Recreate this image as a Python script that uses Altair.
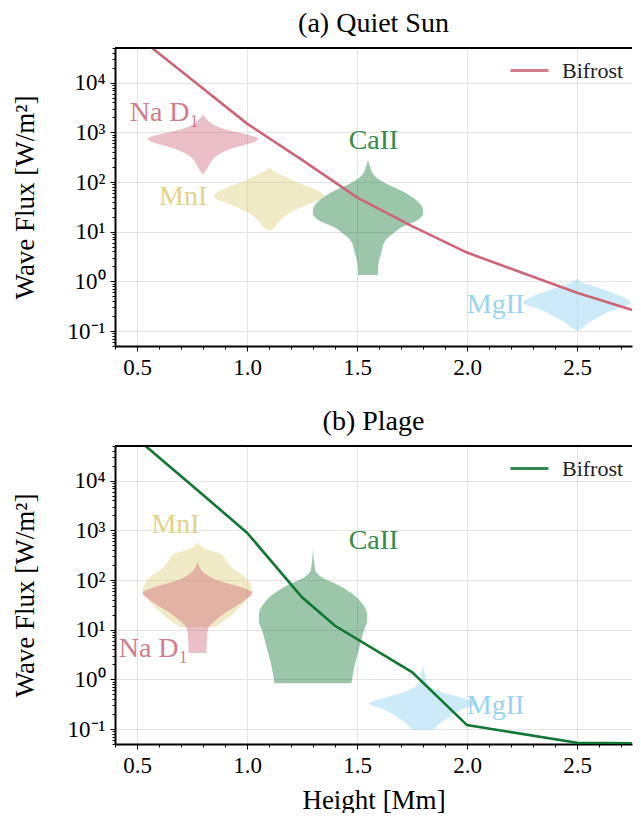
import altair as alt
import pandas as pd

# ---------------- data ----------------
# Bifrost mean wave flux (W/m^2) vs height (Mm)
QS_BIF_H = [0.5, 0.75, 1.0, 1.25, 1.5, 1.75, 2.0, 2.5, 3.0]
QS_BIF_F = [87000, 11500, 1500, 280, 49, 13, 3.8, 0.59, 0.12]
PL_BIF_H = [0.5, 0.75, 1.0, 1.25, 1.4, 1.75, 2.0, 2.5, 3.0]
PL_BIF_F = [70000, 8000, 900, 45, 12, 1.4, 0.12, 0.053, 0.05]

# violin outlines: log10(flux) levels and half widths (Mm)
QS_NAD1_X = 0.80
QS_NAD1_LOGF = [3.36, 3.25, 3.15, 3.05, 2.98, 2.92, 2.87, 2.82, 2.76, 2.70, 2.62, 2.52, 2.40, 2.28, 2.15]
QS_NAD1_W = [0.0, 0.02, 0.05, 0.11, 0.18, 0.23, 0.25, 0.24, 0.20, 0.15, 0.10, 0.06, 0.035, 0.02, 0.0]

QS_MNI_X = 1.10
QS_MNI_LOGF = [2.29, 2.22, 2.15, 2.07, 1.99, 1.87, 1.78, 1.73, 1.66, 1.59, 1.46, 1.32, 1.18, 1.08, 1.02]
QS_MNI_W = [0.0, 0.02, 0.05, 0.09, 0.13, 0.20, 0.24, 0.25, 0.24, 0.20, 0.13, 0.075, 0.04, 0.025, 0.0]

QS_CAII_X = 1.55
QS_CAII_LOGF = [2.45, 2.30, 2.15, 2.05, 1.95, 1.83, 1.70, 1.57, 1.45, 1.36, 1.22, 1.08, 0.95, 0.88, 0.75, 0.62, 0.45, 0.30, 0.13]
QS_CAII_W = [0.0, 0.01, 0.025, 0.05, 0.09, 0.15, 0.20, 0.235, 0.25, 0.25, 0.22, 0.15, 0.11, 0.09, 0.07, 0.063, 0.052, 0.046, 0.045]

QS_MGII_X = 2.50
QS_MGII_LOGF = [0.05, -0.05, -0.12, -0.20, -0.30, -0.38, -0.43, -0.48, -0.55, -0.62, -0.69, -0.76, -0.83, -0.92, -1.0]
QS_MGII_W = [0.0, 0.04, 0.09, 0.14, 0.20, 0.235, 0.245, 0.23, 0.18, 0.14, 0.11, 0.08, 0.055, 0.03, 0.0]

PL_MNI_X = 0.775
PL_MNI_LOGF = [2.79, 2.69, 2.59, 2.53, 2.42, 2.24, 2.08, 1.92, 1.78, 1.64, 1.44, 1.24, 1.05]
PL_MNI_W = [0.0, 0.012, 0.06, 0.105, 0.127, 0.16, 0.21, 0.24, 0.25, 0.23, 0.19, 0.14, 0.08]

PL_NAD1_X = 0.775
PL_NAD1_LOGF = [2.38, 2.24, 2.12, 1.98, 1.88, 1.82, 1.74, 1.58, 1.38, 1.18, 1.04, 0.92, 0.53]
PL_NAD1_W = [0.0, 0.012, 0.037, 0.10, 0.18, 0.22, 0.25, 0.21, 0.14, 0.08, 0.05, 0.045, 0.04]

PL_CAII_X = 1.30
PL_CAII_LOGF = [2.63, 2.40, 2.18, 2.04, 1.92, 1.72, 1.52, 1.31, 1.18, 0.97, 0.63, 0.30, -0.08]
PL_CAII_W = [0.0, 0.004, 0.012, 0.045, 0.105, 0.18, 0.225, 0.246, 0.246, 0.23, 0.21, 0.19, 0.175]

PL_MGII_X = 1.80
PL_MGII_LOGF = [0.30, 0.10, -0.10, -0.24, -0.38, -0.49, -0.60, -0.75, -0.89, -1.01]
PL_MGII_W = [0.0, 0.008, 0.022, 0.075, 0.18, 0.245, 0.18, 0.12, 0.075, 0.05]

# line labels
LABEL_TEXT = ["Na D\u2081", "MnI", "CaII", "MgII"]
QS_LABEL_X = [0.625, 0.71, 1.575, 2.13]
QS_LABEL_F = [2400, 51, 680, 0.33]
PL_LABEL_X = [0.575, 0.675, 1.575, 2.13]
PL_LABEL_F = [4.1, 1290, 620, 0.29]

# axis ticks
X_TICKS = [0.4, 0.5, 0.6, 0.7, 0.8, 0.9, 1.0, 1.1, 1.2, 1.3, 1.4, 1.5, 1.6, 1.7, 1.8, 1.9,
           2.0, 2.1, 2.2, 2.3, 2.4, 2.5, 2.6, 2.7]
Y_TICKS = [0.05, 0.06, 0.07, 0.08, 0.09, 0.1, 0.2, 0.3, 0.4, 0.5, 0.6, 0.7, 0.8, 0.9,
           1, 2, 3, 4, 5, 6, 7, 8, 9, 10, 20, 30, 40, 50, 60, 70, 80, 90,
           100, 200, 300, 400, 500, 600, 700, 800, 900, 1000, 2000, 3000, 4000, 5000,
           6000, 7000, 8000, 9000, 10000, 20000, 30000, 40000, 50000]

ROSE, SAND, GREEN, CYAN = "#CC6677", "#DDCC77", "#117733", "#88CCEE"
LABEL_COLORS = [ROSE, SAND, GREEN, CYAN]

FONT = "Liberation Serif"
W, H = 517, 298
XDOM = [0.4, 2.75]
YDOM = [0.05, 50000]

x_major = "abs(datum.value*2 - round(datum.value*2)) < 0.001"
y_L = "(log(datum.value)/LN10)"
y_major = f"abs({y_L} - round({y_L})) < 0.001"
y_label = (f"{y_major} ? ('10' + (round({y_L}) == -1 ? '\u207b\u00b9' : round({y_L}) == 0 ? '\u2070' : "
           f"round({y_L}) == 1 ? '\u00b9' : round({y_L}) == 2 ? '\u00b2' : round({y_L}) == 3 ? '\u00b3' : '\u2074')) : ''")


def xaxis(show_title):
    return alt.Axis(
        values=X_TICKS,
        labelExpr=f"{x_major} ? format(datum.value, '.1f') : ''",
        tickSize={"condition": {"test": x_major, "value": 5}, "value": 3},
        gridOpacity={"condition": {"test": x_major, "value": 1}, "value": 0},
        labelFlush=False,
        labelOverlap=False,
        title="Height [Mm]" if show_title else "",
    )


yaxis = alt.Axis(
    values=Y_TICKS,
    labelExpr=y_label,
    tickSize={"condition": {"test": y_major, "value": 5}, "value": 3},
    gridOpacity={"condition": {"test": y_major, "value": 1}, "value": 0},
    title="Wave Flux [W/m\u00b2]",
    labelFlush=False,
)

XSC = alt.Scale(domain=XDOM, nice=False, zero=False)
YSC = alt.Scale(type="log", domain=YDOM, nice=False)


def violin_layer(center, logf, widths, color, xax):
    df = pd.DataFrame({
        "flux": [10 ** v for v in logf],
        "lo": [center - w for w in widths],
        "hi": [center + w for w in widths],
    })
    return alt.Chart(df).mark_area(orient="horizontal", color=color, opacity=0.42,
                                   interpolate="monotone").encode(
        y=alt.Y("flux:Q", scale=YSC, axis=yaxis),
        x=alt.X("lo:Q", scale=XSC, axis=xax),
        x2="hi:Q",
    )


def panel(title, bif_h, bif_f, line_color, violins, lab_x, lab_f, show_xtitle):
    xax = xaxis(show_xtitle)
    layers = [violin_layer(c, lf, w, col, xax) for c, lf, w, col in violins]
    line_df = pd.DataFrame({"h": bif_h, "flux": bif_f, "series": ["Bifrost"] * len(bif_h)})
    line = alt.Chart(line_df).mark_line(clip=True, strokeWidth=2.6).encode(
        x=alt.X("h:Q", scale=XSC, axis=xax),
        y=alt.Y("flux:Q", scale=YSC, axis=yaxis),
        color=alt.Color("series:N", scale=alt.Scale(domain=["Bifrost"], range=[line_color]),
                        legend=alt.Legend(title=None, orient="none", legendX=394, legendY=2,
                                          symbolType="stroke", symbolSize=1444,
                                          symbolStrokeWidth=3, labelFontSize=22, labelFont=FONT,
                                          labelColor="#222222", labelOffset=12, padding=0)),
    )
    lab_df = pd.DataFrame({"x": lab_x, "flux": lab_f, "text": LABEL_TEXT, "c": LABEL_COLORS})
    labels = alt.Chart(lab_df).mark_text(font=FONT, fontSize=28, opacity=0.85).encode(
        x=alt.X("x:Q", scale=XSC, axis=xax),
        y=alt.Y("flux:Q", scale=YSC, axis=yaxis),
        text="text:N",
        color=alt.Color("c:N", scale=None),
    )
    topline = alt.Chart(line_df).mark_rule(color="black", strokeWidth=2).encode(
        x=alt.value(0), x2=alt.value(W), y=alt.value(0)
    )
    return alt.layer(*layers, line, labels, topline).properties(
        width=W, height=H,
        title=alt.TitleParams(title, font=FONT, fontSize=28, fontWeight="normal", color="black", offset=9),
    )


top = panel("(a) Quiet Sun", QS_BIF_H, QS_BIF_F, ROSE,
            [(QS_NAD1_X, QS_NAD1_LOGF, QS_NAD1_W, ROSE),
             (QS_MNI_X, QS_MNI_LOGF, QS_MNI_W, SAND),
             (QS_CAII_X, QS_CAII_LOGF, QS_CAII_W, GREEN),
             (QS_MGII_X, QS_MGII_LOGF, QS_MGII_W, CYAN)],
            QS_LABEL_X, QS_LABEL_F, False)

bottom = panel("(b) Plage", PL_BIF_H, PL_BIF_F, GREEN,
               [(PL_MNI_X, PL_MNI_LOGF, PL_MNI_W, SAND),
                (PL_NAD1_X, PL_NAD1_LOGF, PL_NAD1_W, ROSE),
                (PL_CAII_X, PL_CAII_LOGF, PL_CAII_W, GREEN),
                (PL_MGII_X, PL_MGII_LOGF, PL_MGII_W, CYAN)],
               PL_LABEL_X, PL_LABEL_F, True)

chart = alt.vconcat(top, bottom, spacing=29).resolve_scale(color="independent").configure_view(
    strokeWidth=0
).configure_axis(
    labelFont=FONT, titleFont=FONT, labelFontSize=23, titleFontSize=27, titleFontWeight="normal",
    labelColor="black", titleColor="black", domainColor="black", domainWidth=2,
    tickColor="black", tickWidth=1, gridColor="#e4e4e4", gridWidth=1, labelPadding=5,
).configure_axisY(titlePadding=28).configure_axisX(titlePadding=10, labelOverlap=False).properties(
    padding={"left": 3, "top": 2, "right": 0, "bottom": 0}
)

chart.save("out.html", embed_options={"renderer": "svg", "actions": False})
